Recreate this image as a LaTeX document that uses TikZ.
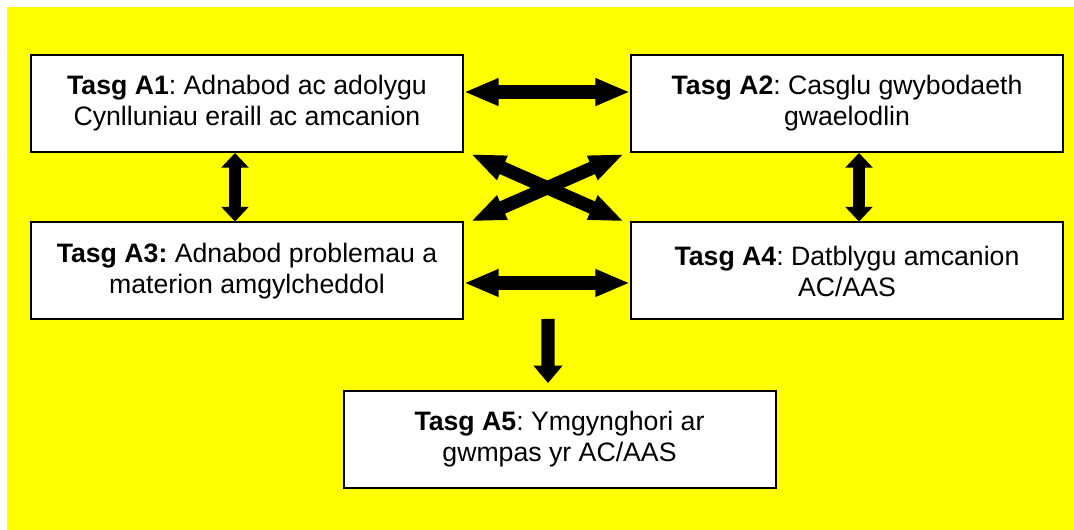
\documentclass[tikz,border=0pt]{standalone}
\usepackage{fontspec}
\setmainfont{Liberation Sans}
\usetikzlibrary{arrows.meta}
\definecolor{bgyellow}{RGB}{255,255,0}
\frenchspacing

\tikzset{
  taskbox/.style={draw=black, line width=1.5pt, fill=white, inner sep=0pt,
    minimum width=324pt, minimum height=72.75pt, align=center,
    font=\fontsize{20}{23.25}\selectfont},
  wideboth/.style={line width=10pt,
    {Triangle[length=26pt,width=19pt]}-{Triangle[length=26pt,width=19pt]}},
  tallboth/.style={line width=9pt,
    {Triangle[length=11pt,width=20pt]}-{Triangle[length=11pt,width=20pt]}},
  crossboth/.style={line width=10pt,
    {Triangle[length=26pt,width=18pt]}-{Triangle[length=26pt,width=18pt]}},
  downone/.style={line width=10pt, -{Triangle[length=13pt,width=21pt]}}
}

\begin{document}
\begin{tikzpicture}[x=0.75pt, y=-0.75pt]
                    \useasboundingbox (0,0) rectangle (1074,530);

                    % Yellow background
                    \fill [bgyellow] (7,7) rectangle (1074,530);%

                    % Task boxes
                    \node [taskbox] (A1) at (247,103.5) {\textbf{Tasg A1}: Adnabod ac adolygu\\Cynlluniau eraill ac amcanion};%
                    \node [taskbox] (A2) at (847,103.5) {\textbf{Tasg A2}: Casglu gwybodaeth\\gwaelodlin};%
                    \node [taskbox] (A3) at (247,271) {\textbf{Tasg A3:} Adnabod problemau a\\materion amgylcheddol};%
                    \node [taskbox] (A4) at (847,271) {\textbf{Tasg A4}: Datblygu amcanion\\AC/AAS};%
                    \node [taskbox] (A5) at (559.5,439.5) {\textbf{Tasg A5}: Ymgynghori ar\\gwmpas yr AC/AAS};%

                    % Drawing arrow A1 A2
                    \draw [wideboth] ([yshift=8.6pt]A1.east) -- ([yshift=8.6pt]A2.west);%

                    % Drawing arrow A3 A4
                    \draw [wideboth] ([yshift=-9pt]A3.east) -- ([yshift=-9pt]A4.west);%

                    % Drawing arrow A1 A3
                    \draw [tallboth] ([xshift=-9pt]A1.south) -- ([xshift=-9pt]A3.north);%

                    % Drawing arrow A2 A4
                    \draw [tallboth] ([xshift=9pt]A2.south) -- ([xshift=9pt]A4.north);%

                    % Drawing crossing arrows
                    \draw [crossboth] ([shift={(5pt,-0.75pt)}]A1.south east) -- ([xshift=-4.5pt]A4.north west);%
                    \draw [crossboth] ([xshift=5pt]A3.north east) -- ([shift={(-4.5pt,-0.75pt)}]A2.south west);%

                    % Drawing arrow to A5
                    \draw [downone] (548,319) -- ([shift={(-8.6pt,5.25pt)}]A5.north);%
\end{tikzpicture}
\end{document}
